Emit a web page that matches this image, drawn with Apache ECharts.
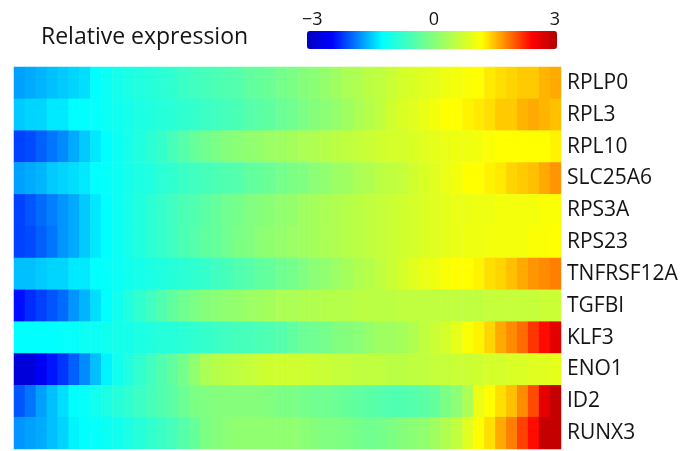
<!DOCTYPE html>
<html>
<head>
<meta charset="utf-8">
<script src="https://cdn.jsdelivr.net/npm/echarts@6.0.0/dist/echarts.min.js"></script>
<style>
  html, body { margin: 0; padding: 0; background: #fff; }
  #main { width: 685px; height: 451px; }
</style>
</head>
<body>
<div id="main"></div>
<script>
// genes, top to bottom
const genes = ["RPLP0", "RPL3", "RPL10", "SLC25A6", "RPS3A", "RPS23",
  "TNFRSF12A", "TGFBI", "KLF3", "ENO1", "ID2", "RUNX3"];

// colour bar tick labels
const scaleTicks = ["\u22123", "0", "3"];

// relative expression per gene, 50 ordered cells left to right
const rplp0 = [-1.65, -1.6, -1.55, -1.5, -1.45, -1.4, -1.35, -1.2, -1.1, -1.0,
  -0.95, -0.9, -0.85, -0.8, -0.75, -0.65, -0.6, -0.55, -0.5, -0.45,
  -0.4, -0.3, -0.25, -0.2, -0.1, -0.05, 0.05, 0.1, 0.2, 0.3,
  0.4, 0.45, 0.55, 0.6, 0.7, 0.8, 0.85, 0.9, 0.95, 1.05,
  1.1, 1.15, 1.2, 1.3, 1.35, 1.4, 1.45, 1.45, 1.55, 1.6];
const rpl3 = [-1.45, -1.4, -1.4, -1.3, -1.3, -1.2, -1.2, -1.15, -1.1, -1.05,
  -1.0, -0.95, -0.9, -0.85, -0.8, -0.75, -0.7, -0.65, -0.6, -0.55,
  -0.5, -0.4, -0.35, -0.3, -0.2, -0.15, -0.05, 0.05, 0.1, 0.2,
  0.3, 0.4, 0.5, 0.6, 0.75, 0.85, 0.9, 1.0, 1.1, 1.2,
  1.2, 1.25, 1.3, 1.35, 1.45, 1.45, 1.55, 1.6, 1.55, 1.5];
const rpl10 = [-2.1, -2.05, -1.95, -1.85, -1.75, -1.6, -1.45, -1.3, -1.2, -1.1,
  -1.0, -0.9, -0.8, -0.7, -0.55, -0.4, -0.25, -0.15, -0.05, 0.05,
  0.1, 0.15, 0.2, 0.25, 0.3, 0.35, 0.4, 0.45, 0.5, 0.55,
  0.6, 0.65, 0.7, 0.75, 0.8, 0.8, 0.85, 0.9, 0.95, 1.0,
  1.05, 1.05, 1.1, 1.15, 1.2, 1.2, 1.2, 1.2, 1.2, 1.25];
const slc25a6 = [-1.65, -1.6, -1.55, -1.45, -1.4, -1.35, -1.3, -1.2, -1.15, -1.1,
  -1.0, -0.95, -0.9, -0.8, -0.75, -0.65, -0.6, -0.55, -0.5, -0.45,
  -0.4, -0.3, -0.25, -0.2, -0.1, -0.05, 0.0, 0.1, 0.15, 0.25,
  0.3, 0.4, 0.45, 0.55, 0.6, 0.65, 0.75, 0.85, 0.9, 1.0,
  1.1, 1.2, 1.2, 1.25, 1.3, 1.4, 1.45, 1.5, 1.6, 1.7];
const rps3a = [-2.1, -2.0, -1.9, -1.8, -1.7, -1.6, -1.45, -1.3, -1.2, -1.1,
  -1.0, -0.9, -0.8, -0.7, -0.6, -0.5, -0.45, -0.35, -0.25, -0.15,
  -0.1, 0.0, 0.05, 0.1, 0.15, 0.2, 0.3, 0.35, 0.4, 0.45,
  0.5, 0.55, 0.6, 0.65, 0.7, 0.75, 0.8, 0.85, 0.9, 0.95,
  1.0, 1.0, 1.05, 1.05, 1.1, 1.1, 1.1, 1.1, 1.15, 1.15];
const rps23 = [-2.1, -2.05, -1.95, -1.85, -1.7, -1.6, -1.45, -1.3, -1.2, -1.1,
  -1.0, -0.9, -0.8, -0.7, -0.6, -0.5, -0.4, -0.3, -0.25, -0.15,
  -0.05, 0.0, 0.1, 0.15, 0.2, 0.25, 0.3, 0.35, 0.4, 0.45,
  0.5, 0.55, 0.6, 0.65, 0.7, 0.75, 0.8, 0.85, 0.9, 0.95,
  1.0, 1.05, 1.05, 1.1, 1.1, 1.1, 1.1, 1.15, 1.15, 1.2];
const tnfrsf12a = [-1.5, -1.5, -1.45, -1.4, -1.4, -1.3, -1.3, -1.2, -1.15, -1.1,
  -1.05, -1.0, -0.95, -0.9, -0.85, -0.8, -0.75, -0.7, -0.6, -0.55,
  -0.45, -0.4, -0.3, -0.25, -0.15, -0.1, 0.0, 0.1, 0.15, 0.25,
  0.35, 0.45, 0.5, 0.6, 0.7, 0.8, 0.9, 1.0, 1.05, 1.15,
  1.2, 1.2, 1.25, 1.35, 1.4, 1.5, 1.6, 1.7, 1.75, 1.8];
const tgfbi = [-2.35, -2.2, -2.1, -2.0, -1.9, -1.7, -1.55, -1.35, -1.2, -1.05,
  -0.9, -0.75, -0.6, -0.45, -0.3, -0.15, -0.05, 0.05, 0.1, 0.15,
  0.2, 0.25, 0.3, 0.35, 0.4, 0.4, 0.45, 0.45, 0.5, 0.5,
  0.5, 0.55, 0.55, 0.55, 0.55, 0.6, 0.6, 0.6, 0.6, 0.6,
  0.6, 0.6, 0.6, 0.65, 0.65, 0.65, 0.65, 0.65, 0.7, 0.7];
const klf3 = [-1.2, -1.2, -1.2, -1.2, -1.15, -1.15, -1.1, -1.1, -1.05, -1.0,
  -1.0, -0.95, -0.9, -0.85, -0.85, -0.8, -0.75, -0.7, -0.65, -0.6,
  -0.55, -0.55, -0.5, -0.45, -0.4, -0.3, -0.2, -0.15, -0.1, 0.0,
  0.05, 0.1, 0.2, 0.3, 0.3, 0.35, 0.45, 0.6, 0.7, 0.8,
  0.95, 1.15, 1.25, 1.4, 1.6, 1.75, 1.9, 2.15, 2.35, 2.6];
const eno1 = [-2.75, -2.75, -2.5, -2.3, -2.15, -1.95, -1.75, -1.5, -1.25, -1.05,
  -0.9, -0.75, -0.6, -0.45, -0.3, -0.1, 0.15, 0.4, 0.5, 0.55,
  0.6, 0.65, 0.7, 0.75, 0.75, 0.75, 0.75, 0.7, 0.7, 0.65,
  0.65, 0.6, 0.6, 0.6, 0.55, 0.55, 0.6, 0.6, 0.65, 0.65,
  0.7, 0.7, 0.75, 0.8, 0.8, 0.85, 0.85, 0.9, 0.9, 0.95];
const id2 = [-2.0, -1.85, -1.65, -1.5, -1.35, -1.2, -1.15, -1.05, -0.95, -0.85,
  -0.75, -0.65, -0.55, -0.45, -0.35, -0.2, -0.05, 0.0, 0.05, 0.05,
  0.05, 0.05, 0.05, 0.0, -0.05, -0.05, -0.1, -0.15, -0.15, -0.2,
  -0.25, -0.3, -0.35, -0.4, -0.45, -0.45, -0.4, -0.35, -0.25, -0.05,
  0.1, 0.4, 1.0, 1.2, 1.35, 1.5, 1.75, 2.05, 2.6, 2.85];
const runx3 = [-1.7, -1.65, -1.6, -1.5, -1.4, -1.25, -1.2, -1.15, -1.1, -1.05,
  -0.95, -0.85, -0.75, -0.65, -0.55, -0.4, -0.25, -0.05, 0.05, 0.1,
  0.15, 0.15, 0.15, 0.15, 0.15, 0.15, 0.1, 0.05, 0.0, 0.0,
  -0.05, -0.1, -0.15, -0.1, -0.05, 0.05, 0.1, 0.15, 0.3, 0.45,
  0.6, 0.9, 1.2, 1.35, 1.6, 1.8, 2.1, 2.35, 2.85, 2.85];

const rows = [rplp0, rpl3, rpl10, slc25a6, rps3a, rps23,
  tnfrsf12a, tgfbi, klf3, eno1, id2, runx3];

const cells = rplp0.map((v, i) => String(i + 1));

const heatData = [];
rows.forEach((row, y) => {
  row.forEach((v, x) => {
    heatData.push([x, y, v]);
  });
});

const textColor = "#141414";
const fontName = "'Open Sans', 'Noto Sans', sans-serif";

const myChart = echarts.init(document.getElementById("main"));
myChart.setOption({
  animation: false,
  title: {
    text: "Relative expression",
    left: 41,
    top: 26,
    padding: 0,
    textStyle: {
      color: textColor,
      fontSize: 23,
      fontWeight: "normal",
      fontFamily: fontName,
    },
  },
  grid: {
    left: 14,
    right: 124,
    top: 67,
    bottom: 2,
  },
  xAxis: {
    type: "category",
    data: cells,
    show: false,
  },
  yAxis: {
    type: "category",
    data: genes,
    inverse: true,
    position: "right",
    axisLine: { show: false },
    axisTick: { show: false },
    splitLine: { show: false },
    axisLabel: {
      margin: 6,
      color: textColor,
      fontSize: 21,
      fontFamily: fontName,
    },
  },
  visualMap: {
    type: "continuous",
    min: -3,
    max: 3,
    orient: "horizontal",
    left: 307,
    top: 31,
    padding: 0,
    itemWidth: 18,
    itemHeight: 250,
    calculable: false,
    hoverLink: false,
    showLabel: false,
    text: null,
    inRange: {
      color: ["#0000c0", "#0000ff", "#0080ff", "#00ffff", "#40ffc0", "#80ff80",
        "#c0ff40", "#ffff00", "#ff8000", "#ff0000", "#b00000"],
    },
  },
  graphic: [
    {
      type: "text",
      x: 302,
      y: 20,
      style: {
        text: scaleTicks[0],
        fill: textColor,
        font: "18px " + fontName,
        textAlign: "left",
        textVerticalAlign: "middle",
      },
    },
    {
      type: "text",
      x: 434,
      y: 20,
      style: {
        text: scaleTicks[1],
        fill: textColor,
        font: "18px " + fontName,
        textAlign: "center",
        textVerticalAlign: "middle",
      },
    },
    {
      type: "text",
      x: 560,
      y: 20,
      style: {
        text: scaleTicks[2],
        fill: textColor,
        font: "18px " + fontName,
        textAlign: "right",
        textVerticalAlign: "middle",
      },
    },
  ],
  series: [
    {
      type: "heatmap",
      data: heatData,
      itemStyle: { borderWidth: 0 },
      emphasis: { disabled: true },
      progressive: 0,
    },
  ],
});

window.addEventListener("resize", () => myChart.resize(), false);
</script>
</body>
</html>
